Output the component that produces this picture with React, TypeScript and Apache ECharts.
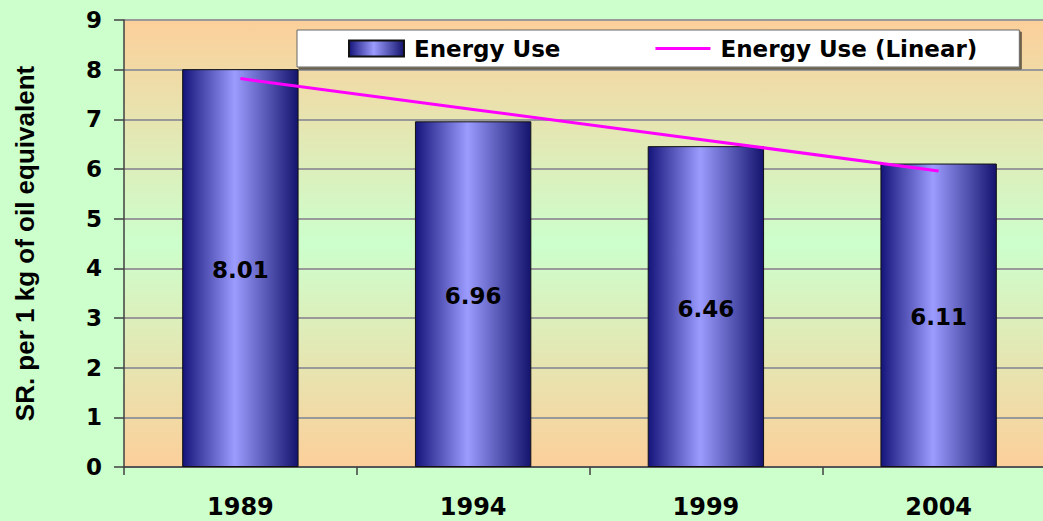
import React, { useEffect, useRef } from "react";
import * as echarts from "echarts";

const categories = ["1989", "1994", "1999", "2004"];
const energyUse = [8.01, 6.96, 6.46, 6.11];
const energyUseLinear = [7.82, 7.2, 6.58, 5.96];
const yTicks = { min: 0, max: 9, interval: 1 };
const yAxisName = "SR. per 1 kg of oil equivalent";
const seriesNames = ["Energy Use", "Energy Use (Linear)"];

const H_FONT = "'DejaVu Sans', sans-serif";

export default function App() {
  const ref = useRef<HTMLDivElement>(null);
  useEffect(() => {
    if (!ref.current) return;
    const chart = echarts.init(ref.current, undefined, { renderer: "svg" });
    const barGradient = new echarts.graphic.LinearGradient(0, 0, 1, 0, [
      { offset: 0, color: "#14147a" },
      { offset: 0.45, color: "#9c9cff" },
      { offset: 1, color: "#14146e" },
    ]);
    chart.setOption({
      animation: false,
      backgroundColor: "#ccffcc",
      grid: {
        left: 124,
        top: 20,
        bottom: 54,
        width: 931,
        outerBoundsMode: "none",
        containLabel: false,
        show: true,
        borderWidth: 0,
        backgroundColor: new echarts.graphic.LinearGradient(0, 0, 0, 1, [
          { offset: 0, color: "#fccf9a" },
          { offset: 0.5, color: "#ccffcc" },
          { offset: 1, color: "#fccf9a" },
        ]),
      },
      legend: {
        left: 297,
        top: 30,
        padding: [6, 42, 6, 51],
        itemGap: 95,
        itemWidth: 55,
        itemHeight: 16,
        backgroundColor: "#ffffff",
        borderColor: "#666666",
        borderWidth: 1,
        shadowColor: "rgba(0,0,0,0.55)",
        shadowOffsetX: 2,
        shadowOffsetY: 2,
        shadowBlur: 0,
        textStyle: {
          fontFamily: H_FONT,
          fontWeight: "bold",
          fontSize: 23,
          lineHeight: 25,
          color: "#000",
          padding: [0, 0, 0, 5],
        },
        data: [
          { name: seriesNames[0], icon: "rect" },
          { name: seriesNames[1], icon: "path://M0,0H55V3H0Z" },
        ],
      },
      xAxis: {
        type: "category",
        data: categories,
        boundaryGap: true,
        axisLine: { lineStyle: { color: "#404040", width: 1.5 } },
        axisTick: { show: true, length: 8, lineStyle: { color: "#404040", width: 1.5 } },
        axisLabel: {
          fontFamily: H_FONT,
          fontWeight: "bold",
          fontSize: 24,
          color: "#000",
          margin: 28,
        },
      },
      yAxis: {
        type: "value",
        min: yTicks.min,
        max: yTicks.max,
        interval: yTicks.interval,
        name: yAxisName,
        nameLocation: "middle",
        nameRotate: 90,
        nameGap: 86,
        nameTextStyle: {
          fontFamily: "'Liberation Sans', Arial, sans-serif",
          fontWeight: "bold",
          fontSize: 26,
          color: "#000",
        },
        axisLine: { show: true, lineStyle: { color: "#404040", width: 1.5 } },
        axisTick: { show: true, length: 10, lineStyle: { color: "#404040", width: 1.5 } },
        axisLabel: {
          fontFamily: H_FONT,
          fontWeight: "bold",
          fontSize: 23,
          color: "#000",
          margin: 22,
        },
        splitLine: { show: true, lineStyle: { color: "#999999", width: 2 } },
      },
      series: [
        {
          name: seriesNames[0],
          type: "bar",
          data: energyUse,
          barWidth: "50%",
          itemStyle: { color: barGradient, borderColor: "#111111", borderWidth: 1 },
          label: {
            show: true,
            position: "inside",
            offset: [0, 2],
            fontFamily: H_FONT,
            fontWeight: "bold",
            fontSize: 23,
            color: "#000",
            formatter: (p: any) => p.value.toFixed(2),
          },
          z: 2,
        },
        {
          name: seriesNames[1],
          type: "line",
          data: energyUseLinear,
          symbol: "none",
          lineStyle: { color: "#ff00ff", width: 3 },
          itemStyle: { color: "#ff00ff" },
          z: 5,
        },
      ],
    });
    return () => chart.dispose();
  }, []);
  return (
    <div
      ref={ref}
      style={{ position: "fixed", left: 0, top: 0, width: 1043, height: 521 }}
    />
  );
}
